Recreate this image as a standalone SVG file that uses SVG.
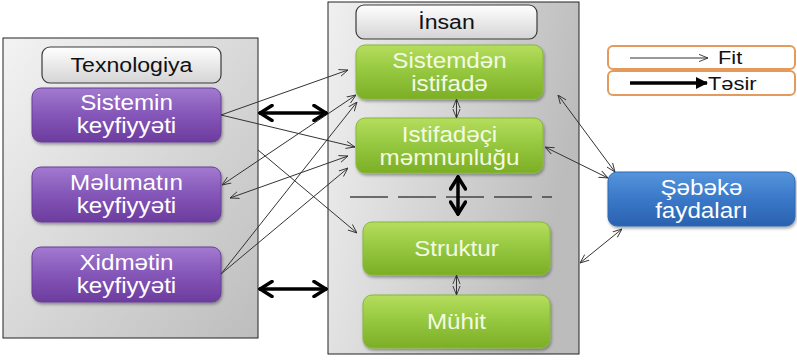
<svg xmlns="http://www.w3.org/2000/svg" width="797" height="360" viewBox="0 0 797 360">
  <style>
    .panel { stroke: #222; stroke-width: 1; }
    .hdr { fill: url(#gHdr); stroke: #3a3a3a; stroke-width: 1.2; }
    .purple { fill: url(#gPurple); stroke: #6a3d98; stroke-width: 1; filter: url(#sh); }
    .green { fill: url(#gGreen); stroke: #86b83a; stroke-width: 1; filter: url(#sh); }
    .blue { fill: url(#gBlue); stroke: #2f68b0; stroke-width: 1; filter: url(#sh); }
    .legend { fill: #fff; stroke: #e39a5a; stroke-width: 2; }
    text { font-family: "Liberation Sans", Arial, sans-serif; text-anchor: middle; }
    .ht { font-size: 21px; fill: #111; }
    .nt { font-size: 22px; fill: #fff; }
    .gt { font-size: 22px; fill: #f3fae3; }
    .lt { font-size: 19px; fill: #111; text-anchor: start; }
    .thin { stroke: #333; stroke-width: 1; fill: none; marker-end: url(#ah); }
    .thin2 { stroke: #333; stroke-width: 1; fill: none; marker-end: url(#ah); marker-start: url(#ah); }
    .thick { stroke: #000; stroke-width: 3.5; fill: none; marker-end: url(#ahT); marker-start: url(#ahT); }
  </style>
  <defs>
    <linearGradient id="gPanel" x1="0" y1="0" x2="1" y2="1">
      <stop offset="0" stop-color="#f3f3f3"/>
      <stop offset="1" stop-color="#bdbdbd"/>
    </linearGradient>
    <linearGradient id="gPanel2" x1="0" y1="0" x2="1" y2="0.3">
      <stop offset="0" stop-color="#f0f0f0"/>
      <stop offset="1" stop-color="#bcbcbc"/>
    </linearGradient>
    <linearGradient id="gHdr" x1="0" y1="0" x2="0" y2="1">
      <stop offset="0" stop-color="#ffffff"/>
      <stop offset="1" stop-color="#d4d4d4"/>
    </linearGradient>
    <linearGradient id="gPurple" x1="0" y1="0" x2="0" y2="1">
      <stop offset="0" stop-color="#a27ad0"/>
      <stop offset="0.5" stop-color="#8456b8"/>
      <stop offset="1" stop-color="#6c3c9e"/>
    </linearGradient>
    <linearGradient id="gGreen" x1="0" y1="0" x2="0" y2="1">
      <stop offset="0" stop-color="#b5dd5e"/>
      <stop offset="0.5" stop-color="#94c73e"/>
      <stop offset="1" stop-color="#7cae26"/>
    </linearGradient>
    <linearGradient id="gBlue" x1="0" y1="0" x2="0" y2="1">
      <stop offset="0" stop-color="#5595dc"/>
      <stop offset="0.5" stop-color="#3a78c8"/>
      <stop offset="1" stop-color="#2a62b0"/>
    </linearGradient>
    <filter id="sh" x="-10%" y="-10%" width="125%" height="140%">
      <feDropShadow dx="1" dy="2" stdDeviation="1.5" flood-color="#000" flood-opacity="0.35"/>
    </filter>
    <marker id="ah" viewBox="0 0 10 10" refX="10" refY="5" markerWidth="9" markerHeight="9" orient="auto-start-reverse" markerUnits="userSpaceOnUse">
      <path d="M0,1 L10,5 L0,9" fill="none" stroke="#333" stroke-width="1"/>
    </marker>
    <marker id="ahT" viewBox="0 0 16 18" refX="15" refY="9" markerWidth="16" markerHeight="18" orient="auto-start-reverse" markerUnits="userSpaceOnUse">
      <path d="M2,1.5 L14,9 L2,16.5" fill="none" stroke="#000" stroke-width="3.5" stroke-linecap="round"/>
    </marker>
    <marker id="ahF" viewBox="0 0 12 12" refX="11" refY="6" markerWidth="12" markerHeight="12" orient="auto" markerUnits="userSpaceOnUse">
      <path d="M0,0 L12,6 L0,12 Z" fill="#000"/>
    </marker>
  </defs>

  <g id="panel-texnologiya">
    <rect class="panel" x="3" y="38" width="255" height="300" fill="url(#gPanel)"/>
    <rect class="hdr" x="42" y="47" width="179" height="36" rx="8"/>
    <text class="ht" transform="translate(131.5 0) scale(1.1 1)" x="0" y="72.5">Texnologiya</text>
  </g>
  <g id="panel-insan">
    <rect class="panel" x="328" y="2" width="251" height="352" fill="url(#gPanel2)"/>
    <rect class="hdr" x="356" y="5" width="181" height="34" rx="8"/>
    <text class="ht" transform="translate(446.5 0) scale(1.1 1)" x="0" y="29.5">İnsan</text>
    <line x1="350" y1="197" x2="552" y2="197" stroke="#444" stroke-width="1.5" stroke-dasharray="38 10"/>
  </g>

  <g id="node-sistemin">
    <rect class="purple" x="32" y="88" width="189" height="54" rx="9"/>
    <text class="nt" transform="translate(126.5 0) scale(1.1 1)" x="0" y="110.5">Sistemin</text>
    <text class="nt" transform="translate(126.5 0) scale(1.1 1)" x="0" y="133.5">keyfiyyəti</text>
  </g>
  <g id="node-melumatin">
    <rect class="purple" x="32" y="167" width="189" height="55" rx="9"/>
    <text class="nt" transform="translate(126.5 0) scale(1.1 1)" x="0" y="190">Məlumatın</text>
    <text class="nt" transform="translate(126.5 0) scale(1.1 1)" x="0" y="213">keyfiyyəti</text>
  </g>
  <g id="node-xidmetin">
    <rect class="purple" x="32" y="247" width="189" height="55" rx="9"/>
    <text class="nt" transform="translate(126.5 0) scale(1.1 1)" x="0" y="270">Xidmətin</text>
    <text class="nt" transform="translate(126.5 0) scale(1.1 1)" x="0" y="293">keyfiyyəti</text>
  </g>

  <g id="node-sistemden">
    <rect class="green" x="356" y="45" width="187" height="54" rx="9"/>
    <text class="gt" transform="translate(449.5 0) scale(1.1 1)" x="0" y="68.5">Sistemdən</text>
    <text class="gt" transform="translate(449.5 0) scale(1.1 1)" x="0" y="91.5">istifadə</text>
  </g>
  <g id="node-istifadeci">
    <rect class="green" x="356" y="118" width="187" height="55" rx="9"/>
    <text class="gt" transform="translate(449.5 0) scale(1.1 1)" x="0" y="142.5">Istifadəçi</text>
    <text class="gt" transform="translate(449.5 0) scale(1.1 1)" x="0" y="165.5">məmnunluğu</text>
  </g>
  <g id="node-struktur">
    <rect class="green" x="363" y="222" width="187" height="53" rx="9"/>
    <text class="gt" transform="translate(456.5 0) scale(1.1 1)" x="0" y="256.5">Struktur</text>
  </g>
  <g id="node-muhit">
    <rect class="green" x="363" y="295" width="187" height="53" rx="9"/>
    <text class="gt" transform="translate(456.5 0) scale(1.1 1)" x="0" y="329.5">Mühit</text>
  </g>

  <g id="node-sebeke">
    <rect class="blue" x="608" y="172" width="187" height="54" rx="9"/>
    <text class="nt" transform="translate(701.5 0) scale(1.1 1)" x="0" y="195.5">Şəbəkə</text>
    <text class="nt" transform="translate(701.5 0) scale(1.1 1)" x="0" y="218.5">faydaları</text>
  </g>

  <g id="legend">
    <rect class="legend" x="608" y="46" width="187" height="23" rx="5"/>
    <rect class="legend" x="608" y="71" width="187" height="24" rx="5"/>
    <line x1="630" y1="58" x2="708" y2="58" stroke="#333" stroke-width="1" marker-end="url(#ah)"/>
    <line x1="630" y1="83" x2="707" y2="83" stroke="#000" stroke-width="3.5" marker-end="url(#ahF)"/>
    <text class="lt" transform="translate(718 0) scale(1.15 1)" x="0" y="64">Fit</text>
    <text class="lt" transform="translate(708 0) scale(1.15 1)" x="0" y="90">Təsir</text>
  </g>

  <g id="connectors">
    <line class="thin" x1="221" y1="115" x2="348" y2="70"/>
    <line class="thin" x1="221" y1="115" x2="355" y2="147"/>
    <line class="thin" x1="258" y1="150" x2="357" y2="233"/>
    <line class="thin2" x1="222" y1="185" x2="356" y2="95"/>
    <line class="thin2" x1="230" y1="198" x2="348" y2="156"/>
    <line class="thin" x1="221" y1="274" x2="357" y2="102"/>
    <line class="thin" x1="221" y1="274" x2="348" y2="168"/>
    <line class="thin2" x1="456.5" y1="99" x2="456.5" y2="118"/>
    <line class="thin2" x1="456.5" y1="275" x2="456.5" y2="295"/>
    <line class="thin2" x1="558" y1="95" x2="615" y2="172"/>
    <line class="thin2" x1="545" y1="147" x2="608" y2="178"/>
    <line class="thin2" x1="622" y1="229" x2="580" y2="263"/>
    <line class="thick" x1="259" y1="113" x2="327" y2="113"/>
    <line class="thick" x1="259" y1="289" x2="327" y2="289"/>
    <line class="thick" x1="458" y1="176" x2="458" y2="215"/>
  </g>
</svg>
